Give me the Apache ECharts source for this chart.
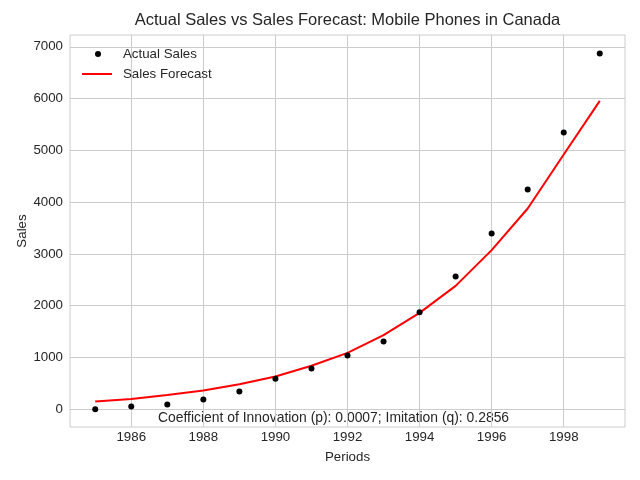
<!DOCTYPE html>
<html>
<head>
<meta charset="utf-8">
<script src="https://cdn.jsdelivr.net/npm/echarts@6/dist/echarts.min.js"></script>
<style>
  html, body { margin: 0; padding: 0; background: #fff; }
  #chart { width: 640px; height: 480px; }
</style>
</head>
<body>
<div id="chart"></div>
<script>
// data
var years = [1985, 1986, 1987, 1988, 1989, 1990, 1991, 1992, 1993, 1994, 1995, 1996, 1997, 1998, 1999];
var actualSales = [0, 52, 91, 187, 342, 586, 786, 1037, 1308, 1874, 2564, 3395, 4245, 5346, 6872];
var salesForecast = [149, 199, 272, 361, 480, 632, 838, 1088, 1430, 1860, 2382, 3072, 3877, 4920, 5956];
var xTicks = [1986, 1988, 1990, 1992, 1994, 1996, 1998];
var yTicks = [0, 1000, 2000, 3000, 4000, 5000, 6000, 7000];
var note = 'Coefficient of Innovation (p): 0.0007; Imitation (q): 0.2856';

var font = 'Liberation Sans, Arial, sans-serif';
var txt = '#262626';
var fs = 13.3;

var chart = echarts.init(document.getElementById('chart'));

var actualData = years.map(function (y, i) { return [y, actualSales[i]]; });
var forecastData = years.map(function (y, i) { return [y, salesForecast[i]]; });

function plain(v) { return String(v); }

chart.setOption({
  backgroundColor: '#fff',
  animation: false,
  title: {
    text: 'Actual Sales vs Sales Forecast: Mobile Phones in Canada',
    left: 347.5,
    textAlign: 'center',
    top: 12,
    padding: 0,
    textStyle: { fontFamily: font, fontSize: 16.5, fontWeight: 'normal', color: txt }
  },
  legend: [{
    left: 95,
    top: 47.5,
    padding: 0,
    itemWidth: 6,
    itemHeight: 6,
    icon: 'circle',
    data: ['Actual Sales'],
    textStyle: { fontFamily: font, fontSize: fs, color: txt, padding: [0, 0, 0, 17] }
  }, {
    left: 82,
    top: 67.5,
    padding: 0,
    itemWidth: 30,
    itemHeight: 2,
    icon: 'rect',
    data: ['Sales Forecast'],
    textStyle: { fontFamily: font, fontSize: fs, color: txt, padding: [0, 0, 0, 6] }
  }],
  grid: {
    left: 70, right: 15, top: 35, bottom: 53,
    outerBoundsMode: 'none',
    show: true, borderColor: '#cccccc', borderWidth: 1
  },
  xAxis: {
    type: 'value',
    min: 1984.3,
    max: 1999.7,
    name: 'Periods',
    nameLocation: 'middle',
    nameGap: 24,
    nameMoveOverlap: false,
    nameTextStyle: { fontFamily: font, fontSize: fs, color: txt },
    axisLine: { show: false },
    axisTick: { show: false, customValues: xTicks },
    axisLabel: { customValues: xTicks, formatter: plain, fontFamily: font, fontSize: fs, color: txt, margin: 4 },
    splitLine: { show: true, lineStyle: { color: '#cccccc', width: 1 } }
  },
  yAxis: {
    type: 'value',
    min: -344,
    max: 7228,
    name: 'Sales',
    nameLocation: 'middle',
    nameGap: 41,
    nameMoveOverlap: false,
    nameTextStyle: { fontFamily: font, fontSize: fs, color: txt },
    axisLine: { show: false },
    axisTick: { show: false, customValues: yTicks },
    axisLabel: { customValues: yTicks, formatter: plain, fontFamily: font, fontSize: fs, color: txt, margin: 7 },
    splitLine: { show: true, lineStyle: { color: '#cccccc', width: 1 } }
  },
  series: [{
    name: 'Actual Sales',
    type: 'scatter',
    data: actualData,
    symbolSize: 6,
    itemStyle: { color: '#000', opacity: 1 },
    z: 3
  }, {
    name: 'Sales Forecast',
    type: 'line',
    data: forecastData,
    symbol: 'none',
    lineStyle: { color: '#ff0000', width: 2 },
    itemStyle: { color: '#ff0000' },
    z: 2
  }],
  graphic: [{
    type: 'text',
    left: 158,
    top: 411,
    style: { text: note, fontFamily: font, fontSize: 13.9, fill: txt }
  }]
});
</script>
</body>
</html>
